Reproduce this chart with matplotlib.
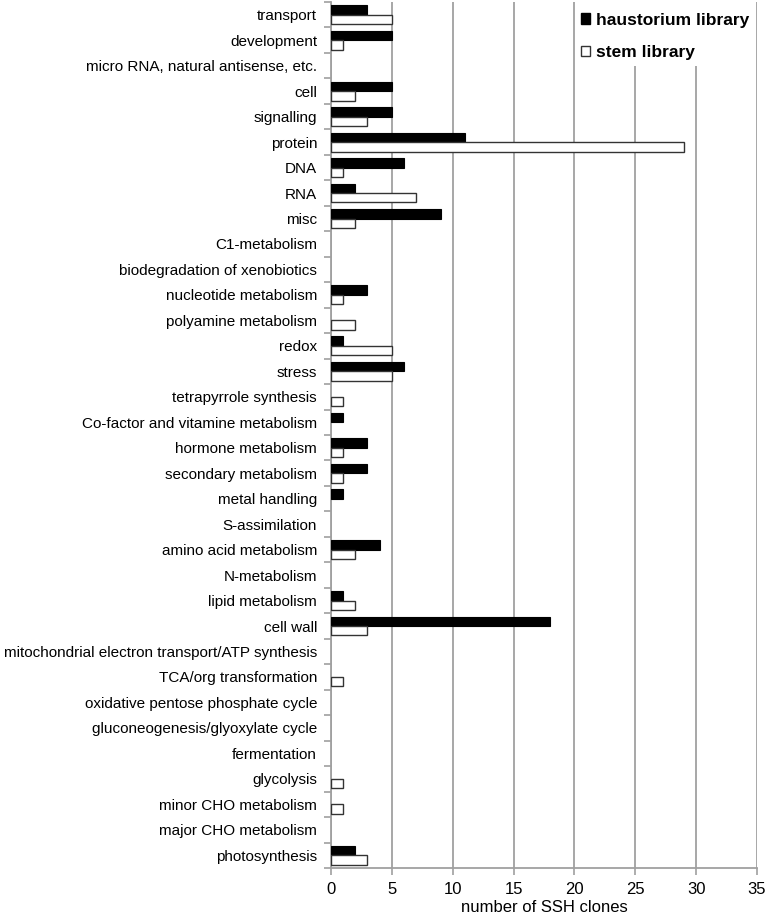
#! /usr/bin/env python3
"""
Horizontal grouped bar chart of SSH clone counts per functional category.
"""

import numpy as np
import matplotlib.pyplot as plt
from matplotlib.patches import Patch, Rectangle

categories = [
    "transport",
    "development",
    "micro RNA, natural antisense, etc.",
    "cell",
    "signalling",
    "protein",
    "DNA",
    "RNA",
    "misc",
    "C1-metabolism",
    "biodegradation of xenobiotics",
    "nucleotide metabolism",
    "polyamine metabolism",
    "redox",
    "stress",
    "tetrapyrrole synthesis",
    "Co-factor and vitamine metabolism",
    "hormone metabolism",
    "secondary metabolism",
    "metal handling",
    "S-assimilation",
    "amino acid metabolism",
    "N-metabolism",
    "lipid metabolism",
    "cell wall",
    "mitochondrial electron transport/ATP synthesis",
    "TCA/org transformation",
    "oxidative pentose phosphate cycle",
    "gluconeogenesis/glyoxylate cycle",
    "fermentation",
    "glycolysis",
    "minor CHO metabolism",
    "major CHO metabolism",
    "photosynthesis",
]

haustorium = [3, 5, 0, 5, 5, 11, 6, 2, 9, 0, 0, 3, 0, 1, 6, 0, 1, 3, 3, 1,
              0, 4, 0, 1, 18, 0, 0, 0, 0, 0, 0, 0, 0, 2]
stem = [5, 1, 0, 2, 3, 29, 1, 7, 2, 0, 0, 1, 2, 5, 5, 1, 0, 1, 1, 0,
        0, 2, 0, 2, 3, 0, 1, 0, 0, 0, 1, 1, 0, 3]

x_ticks = [0, 5, 10, 15, 20, 25, 30, 35]


def main():
    """
    Driver code
    """
    plt.rcParams["font.family"] = ["Liberation Sans", "DejaVu Sans"]
    grey = "#a0a0a0"

    fig = plt.figure(figsize=(7.69, 9.16), dpi=100)
    ax = fig.add_axes([0.4304, 0.0524, 0.5540, 0.9454])

    pos = np.arange(len(categories))
    height = 0.37
    # no outline for empty bars, otherwise a stray line shows at zero
    lw_h = [0.8 if v > 0 else 0 for v in haustorium]
    lw_s = [1.0 if v > 0 else 0 for v in stem]
    ax.barh(pos - height / 2, haustorium, height=height, color="black",
            edgecolor="black", linewidth=lw_h, zorder=3)
    ax.barh(pos + height / 2, stem, height=height, color="white",
            edgecolor="#333333", linewidth=lw_s, zorder=3)

    ax.set_ylim(len(categories) - 0.5, -0.5)
    ax.set_xlim(0, 35)
    ax.set_xticks(x_ticks)
    ax.set_xticklabels([str(t) for t in x_ticks], fontsize=12)

    ax.set_yticks(pos)
    ax.set_yticklabels(categories, fontsize=11)
    ax.tick_params(axis="y", length=0, pad=10)
    ax.set_yticks(np.arange(len(categories) + 1) - 0.5, minor=True)
    ax.tick_params(axis="y", which="minor", length=5, color=grey, width=1.2)
    ax.tick_params(axis="x", length=5, color=grey, width=1.2, pad=5)

    ax.grid(axis="x", color=grey, linewidth=1.3, zorder=0)
    ax.set_axisbelow(True)
    for side in ["top", "right"]:
        ax.spines[side].set_visible(False)
    for side in ["left", "bottom"]:
        ax.spines[side].set_color(grey)
        ax.spines[side].set_linewidth(1.3)

    ax.set_xlabel("number of SSH clones", fontsize=12, labelpad=2)

    # white block behind the legend hides the grid lines there
    ax.add_patch(Rectangle((0.58, 0.926), 0.405, 0.08, transform=ax.transAxes,
                           facecolor="white", edgecolor="none", zorder=4,
                           clip_on=False))

    handles = [
        Patch(facecolor="black", edgecolor="black", label="haustorium library"),
        Patch(facecolor="white", edgecolor="#333333", label="stem library"),
    ]
    leg = ax.legend(handles=handles, loc="upper right",
                    bbox_to_anchor=(0.989, 0.9915), frameon=False,
                    prop={"weight": "bold", "size": 12.5},
                    handlelength=0.55, handleheight=0.55, handletextpad=0.3,
                    labelspacing=1.0, borderpad=0.2, borderaxespad=0.0)
    leg.set_zorder(5)

    fig.savefig("out.png", dpi=100)


if __name__ == "__main__":
    main()
